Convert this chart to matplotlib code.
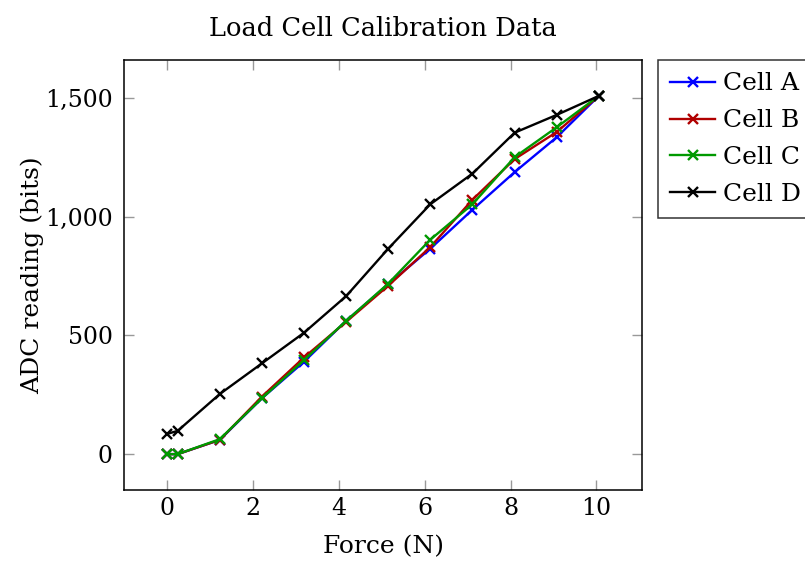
import numpy as np
import matplotlib
matplotlib.use("Agg")
import matplotlib.pyplot as plt

# applied forces (N) -- calibration masses times g
force = [0.0, 0.245, 1.226, 2.207, 3.188, 4.169, 5.150, 6.131, 7.112, 8.093, 9.074, 10.055]

cell_a = [0, 0, 60, 235, 389, 561, 715, 865, 1029, 1187, 1334, 1508]
cell_b = [0, 0, 60, 242, 407, 557, 709, 872, 1071, 1242, 1356, 1508]
cell_c = [0, 0, 63, 235, 396, 561, 718, 903, 1052, 1250, 1376, 1508]
cell_d = [85, 98, 253, 382, 511, 665, 865, 1052, 1181, 1353, 1428, 1508]

series = [
    ("Cell A", cell_a, "#0000ff"),
    ("Cell B", cell_b, "#b00000"),
    ("Cell C", cell_c, "#009900"),
    ("Cell D", cell_d, "#000000"),
]

plt.rcParams["font.family"] = ["DejaVu Serif"]
plt.rcParams["font.size"] = 18

fig = plt.figure(figsize=(8.05, 5.68), dpi=100)
ax = fig.add_axes([124 / 805, 1 - 490 / 568, (642 - 124) / 805, (490 - 60) / 568])

for name, vals, col in series:
    ax.plot(force, vals, color=col, linewidth=1.7, marker="x",
            markersize=7, markeredgewidth=1.7, label=name)

# pgfplots style: 10% enlarged limits
ax.set_xlim(-1.005, 11.06)
ax.set_ylim(-151, 1659)
ax.set_xticks([0, 2, 4, 6, 8, 10])
ax.set_yticks([0, 500, 1000, 1500])
ax.set_yticklabels(["0", "500", "1,000", "1,500"])

ax.tick_params(direction="in", length=7, width=1, color="#999999",
               top=True, right=True, labelsize=17)
ax.tick_params(axis="x", pad=5)
ax.tick_params(axis="y", pad=8)
for s in ax.spines.values():
    s.set_linewidth(1.1)

ax.set_title("Load Cell Calibration Data", fontsize=18.5, pad=17)
ax.set_xlabel("Force (N)", fontsize=18, labelpad=11)
ax.set_ylabel("ADC reading (bits)", fontsize=18, labelpad=1)

leg = ax.legend(loc="upper left", bbox_to_anchor=(1.03, 1.0), fontsize=18,
                frameon=True, fancybox=False, edgecolor="black",
                handlelength=1.8, handletextpad=0.3,
                labelspacing=0.55, borderpad=0.5, borderaxespad=0.0)
leg.get_frame().set_linewidth(1.1)

fig.savefig("out.png", dpi=100)
